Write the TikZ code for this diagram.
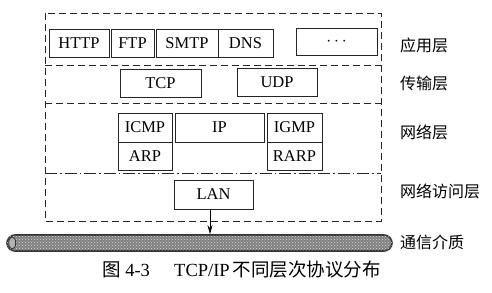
\documentclass[tikz,border=0pt]{standalone}
\usepackage{fontspec}
\setmainfont{Liberation Serif}
\newfontfamily\cjk{Noto Sans CJK SC}
\usetikzlibrary{arrows.meta,patterns}
\begin{document}
\begin{tikzpicture}[x=1pt,y=-1pt,
  pbox/.style={draw=black!85,line width=0.8pt,inner sep=0pt,font=\fontsize{16.5}{16.5}\selectfont},
  layer/.style={anchor=west,inner sep=0pt,font=\cjk\fontsize{16}{16}\selectfont},
  frame/.style={draw=black!85,line width=0.8pt,dash pattern=on 7pt off 4pt},
  dashdotline/.style={draw=black!85,line width=0.8pt,dash pattern=on 12pt off 3pt on 1.5pt off 3pt},
  arr/.style={draw=black,line width=0.7pt,-{Stealth[length=9pt,width=5pt]}}]
\useasboundingbox (0,0) rectangle (492,292);
% outer frame
\coordinate (fTL) at (45,13);
\coordinate (fBR) at (381,221);
\draw[frame] (fTL) rectangle (fBR);
\coordinate (s1l) at (45,65);  \coordinate (s1r) at (381,65);
\coordinate (s2l) at (45,103); \coordinate (s2r) at (381,103);
\coordinate (s3l) at (45,173); \coordinate (s3r) at (381,173);
\draw[frame] (s1l) -- (s1r);
\draw[frame] (s2l) -- (s2r);
\draw[dashdotline] (s3l) -- (s3r);
% application layer
\node[pbox,minimum width=60pt,minimum height=28pt] (http) at (79,43) {HTTP};
\node[pbox,minimum width=43pt,minimum height=28pt] (ftp) at (132.5,43) {FTP};
\node[pbox,minimum width=62pt,minimum height=28pt] (smtp) at (187,43) {SMTP};
\node[pbox,minimum width=55pt,minimum height=28pt] (dns) at (245.5,43) {DNS};
\node[pbox,minimum width=81pt,minimum height=27pt] (more) at (336.5,41.5) {$\cdots$};
% transport layer
\node[pbox,minimum width=81pt,minimum height=28pt] (tcp) at (160.5,83) {TCP};
\node[pbox,minimum width=80pt,minimum height=28pt] (udp) at (277,82) {UDP};
% network layer
\node[pbox,minimum width=54pt,minimum height=29pt] (icmp) at (145,127.5) {ICMP};
\node[pbox,minimum width=54pt,minimum height=28pt] (arp) at (145,156) {ARP};
\node[pbox,minimum width=89pt,minimum height=29pt] (ip) at (219.5,127.5) {IP};
\node[pbox,minimum width=55pt,minimum height=29pt] (igmp) at (294.5,127.5) {IGMP};
\node[pbox,minimum width=55pt,minimum height=28pt] (rarp) at (294.5,156) {RARP};
% network access layer
\node[pbox,minimum width=79pt,minimum height=29pt] (lan) at (213.5,194.5) {LAN};
% cable
\node[draw=black!80,line width=1.6pt,fill=black!50,rounded corners=8pt,minimum width=385pt,minimum height=16pt,inner sep=0pt] (cable) at (199.5,243) {};
\fill[pattern=crosshatch dots,pattern color=black!15,rounded corners=7pt] ([xshift=1pt,yshift=-1pt]cable.north west) rectangle ([xshift=-1pt,yshift=1pt]cable.south east);
\draw[draw=black!80,line width=0.8pt,fill=black!30] ([xshift=6pt]cable.west) ellipse [x radius=3.5pt,y radius=6pt];
\draw[arr] ([xshift=-3.5pt]lan.south) -- ([xshift=-3.5pt]lan.south |- cable.north);
% labels
\node[layer] (l1) at (400,45) {应用层};
\node[layer] (l2) at (400,83) {传输层};
\node[layer] (l3) at (400,132) {网络层};
\node[layer] (l4) at (400,191) {网络访问层};
\node[layer] (l5) at (400,242) {通信介质};
% caption
\node[anchor=west,font=\fontsize{18.5}{18.5}\selectfont,inner sep=0pt] (cap1) at (102,270) {{\cjk 图} 4-3};
\node[anchor=west,font=\fontsize{18.5}{18.5}\selectfont,inner sep=0pt] (cap2) at (174,270) {TCP/IP\,{\cjk 不同层次协议分布}};
\end{tikzpicture}
\end{document}
